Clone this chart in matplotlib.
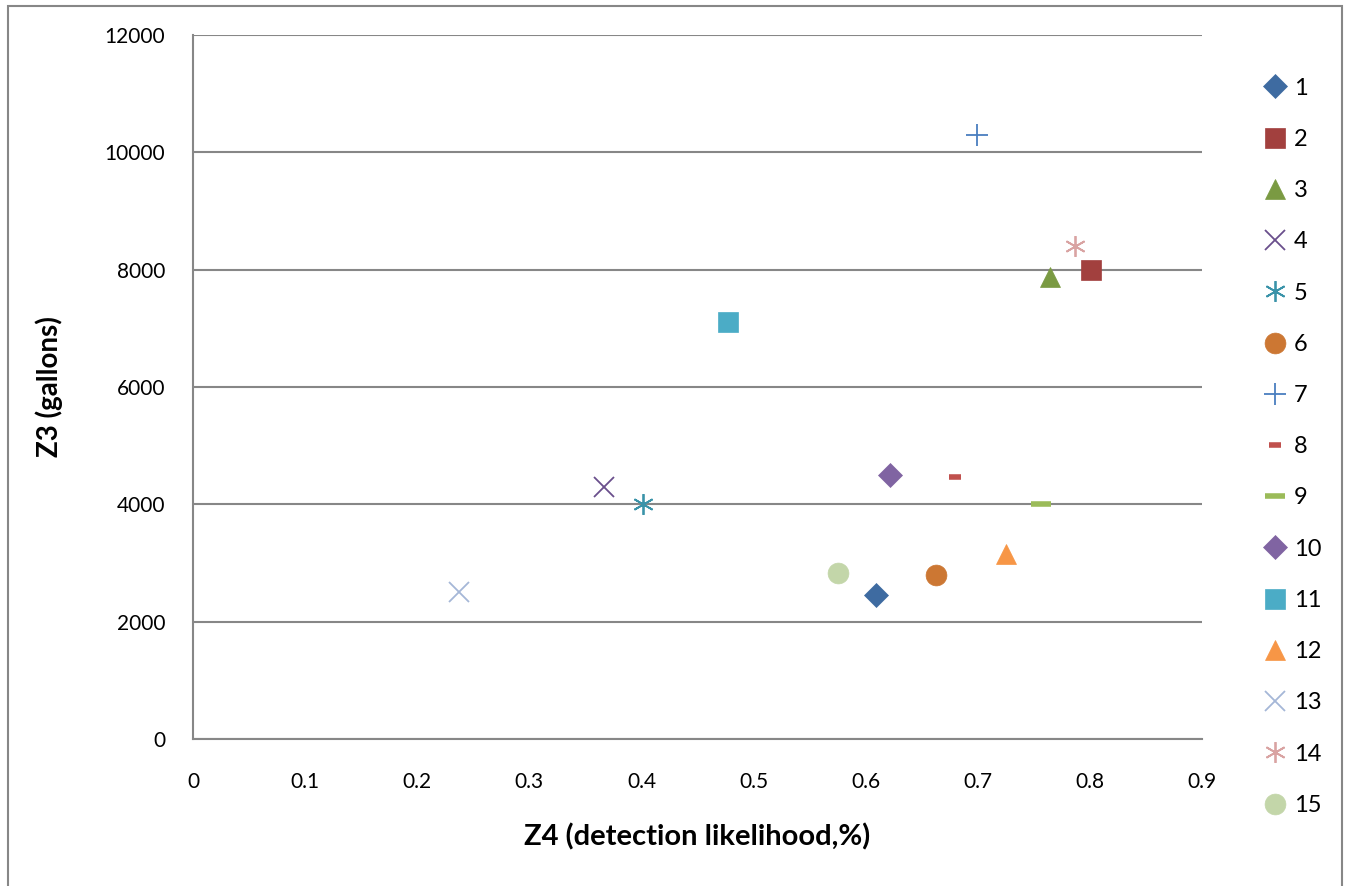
import matplotlib.pyplot as plt

plt.rcParams['font.family'] = ['Lato', 'DejaVu Sans']

# Z4 detection likelihood and Z3 volume for each of the 15 cases
labels = [str(i) for i in range(1, 16)]
z4 = [0.609, 0.801, 0.764, 0.367, 0.401, 0.663, 0.699, 0.680, 0.756, 0.622, 0.477, 0.725, 0.237, 0.787, 0.575]
z3 = [2450, 8000, 7880, 4300, 4000, 2800, 10300, 4470, 4000, 4500, 7100, 3150, 2500, 8400, 2830]

markers = ['D', 's', '^', 'x', (6, 2, 0), 'o', '+', '_', '_', 'D', 's', '^', 'x', (6, 2, 0), 'o']
sizes = [12, 14, 14, 15, 15, 15, 16, 8, 14, 12, 14, 14, 15, 15, 15]
colors = ['#3E6BA1', '#A2403E', '#7A9A42', '#6A4F8C', '#3A93A9', '#CC7733',
          '#4A7EBF', '#C0504D', '#9BBB59', '#8064A2', '#4BACC6', '#F79646',
          '#A5B7D7', '#D9A3A2', '#C3D6A9']

fig = plt.figure(figsize=(13.46, 8.86), dpi=100)
ax = fig.add_axes([0.1434, 0.1659, 0.7496, 0.7946])

for i in range(len(labels)):
    m = markers[i]
    lined = m in ('x', '+', '_') or isinstance(m, tuple)
    mew = 1.3
    if m == '_':
        mew = 4
    ax.plot(z4[i], z3[i], linestyle='none', marker=m, markersize=sizes[i],
            color=colors[i], markeredgewidth=mew if lined else 0.5,
            markeredgecolor=colors[i], label=labels[i])

ax.set_xlim(0, 0.9)
ax.set_ylim(0, 12000)
ax.set_xticks([i / 10 for i in range(10)])
ax.set_xticklabels(['0'] + ['%.1f' % (i / 10) for i in range(1, 10)])
ax.set_yticks(range(0, 12001, 2000))
ax.yaxis.grid(True, color='#878787', linewidth=1.5)
ax.set_axisbelow(True)
for side in ('top', 'right'):
    ax.spines[side].set_visible(False)
for side in ('left', 'bottom'):
    ax.spines[side].set_color('#878787')
    ax.spines[side].set_linewidth(1.5)
ax.tick_params(length=0, labelsize=15, pad=20)
ax.tick_params(axis='x', pad=24)

ax.set_xlabel('Z4 (detection likelihood,%)', fontsize=21, fontweight='bold', labelpad=22)
ax.set_ylabel('Z3 (gallons)', fontsize=20, fontweight='bold', labelpad=30)

ax.legend(loc='upper left', bbox_to_anchor=(0.9315, 0.923), bbox_transform=fig.transFigure,
          frameon=False, fontsize=17, labelspacing=1.28, handlelength=1.0,
          handletextpad=0.3, borderaxespad=0)

# thin frame around the chart area
fig.patches.append(plt.Rectangle((8 / 1346, -0.01), 1334 / 1346, 1 - 6 / 886 + 0.01,
                                 transform=fig.transFigure, fill=False,
                                 edgecolor='#878787', linewidth=1.5))

fig.savefig('out.png', dpi=100)
